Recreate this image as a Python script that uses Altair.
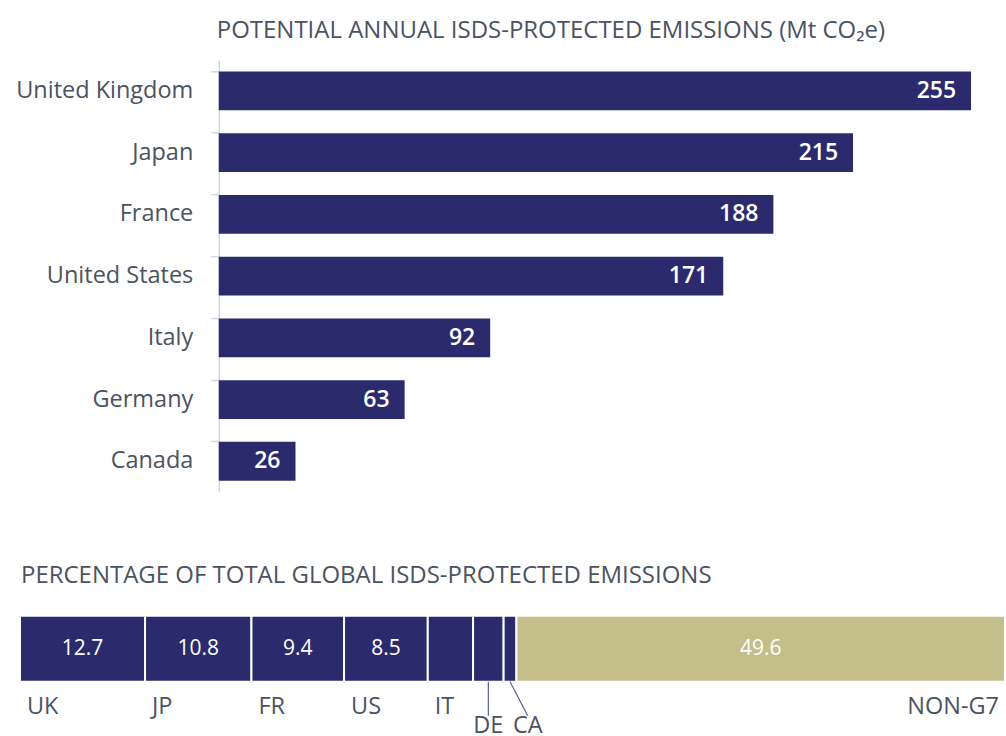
import altair as alt
import pandas as pd

# ---- data ----
countries = ["United Kingdom", "Japan", "France", "United States", "Italy", "Germany", "Canada"]
emissions = [255, 215, 188, 171, 92, 63, 26]

share_codes = ["UK", "JP", "FR", "US", "IT", "DE", "CA", "NON-G7"]
share_values = [12.7, 10.8, 9.4, 8.5, 4.6, 3.1, 1.3, 49.6]
share_labels = ["12.7", "10.8", "9.4", "8.5", "", "", "", "49.6"]
share_groups = ["G7", "G7", "G7", "G7", "G7", "G7", "G7", "NON-G7"]
# lower row of labels (DE, CA) with leader lines; offset of leader end in %-units
leader_codes = ["DE", "CA"]
leader_shift = [0.0, 1.8]

NAVY = "#2b2a6d"
KHAKI = "#c3be8a"
TEXT = "#4b5362"
FONT = "Open Sans"

# layout (pixels)
TOP_W, TOP_H = 753, 432
BOT_LEFT = -199          # bottom bar begins left of the shared origin
BOT_W, BH = 787, 66

# ---- top chart ----
top_df = pd.DataFrame({"country": countries, "value": emissions})

ybar = alt.Y("country:N", sort=countries,
             scale=alt.Scale(paddingInner=0.37, paddingOuter=0.18),
             axis=alt.Axis(title=None, domainColor="#d3d7dd", tickColor="#d3d7dd",
                           tickSize=8, labelPadding=18, labelFontSize=23.5,
                           labelColor=TEXT, labelFont=FONT, domainWidth=1.5,
                           tickWidth=1.5, bandPosition=0, labelLimit=400))
xbar = alt.X("value:Q", scale=alt.Scale(domain=[0, 255], nice=False), axis=None)

bars = alt.Chart(top_df).mark_bar(color=NAVY).encode(x=xbar, y=ybar)
bar_text = alt.Chart(top_df).mark_text(
    align="right", dx=-15, color="white", fontSize=23, fontWeight=600, font=FONT
).encode(x=xbar, y=alt.Y("country:N", sort=countries), text="value:Q")

top = alt.layer(bars, bar_text).properties(
    width=TOP_W, height=TOP_H,
    title=alt.TitleParams("POTENTIAL ANNUAL ISDS-PROTECTED EMISSIONS (Mt CO₂e)",
                          anchor="start", frame="group", fontSize=24, fontWeight="normal",
                          color=TEXT, font=FONT, offset=17, dx=-2)
)

# ---- bottom chart ----
starts, ends = [], []
acc = 0.0
for v in share_values:
    starts.append(acc)
    acc += v
    ends.append(acc)
bot_df = pd.DataFrame({
    "code": share_codes, "value": share_values, "label": share_labels,
    "group": share_groups, "start": starts, "end": ends,
})
bot_df["mid"] = (bot_df["start"] + bot_df["end"]) / 2

lead_df = bot_df[bot_df["code"].isin(leader_codes)].copy()
lead_df["tip"] = lead_df["mid"] + lead_df["code"].map(dict(zip(leader_codes, leader_shift)))
upper_df = bot_df[~bot_df["code"].isin(leader_codes + ["NON-G7"])]
right_df = bot_df[bot_df["code"] == "NON-G7"]

xs = alt.Scale(domain=[0, 100], nice=False, range=[BOT_LEFT, BOT_W])

segs = alt.Chart(bot_df).mark_bar(stroke="white", strokeWidth=2).encode(
    x=alt.X("start:Q", scale=xs, axis=None), x2="end:Q",
    y=alt.value(0), y2=alt.value(BH),
    color=alt.Color("group:N", scale=alt.Scale(domain=["G7", "NON-G7"], range=[NAVY, KHAKI]),
                    legend=None),
)
seg_text = alt.Chart(bot_df).mark_text(color="white", fontSize=21, font=FONT).encode(
    x=alt.X("mid:Q", scale=xs), y=alt.value(BH / 2), text="label:N")

up_lab = alt.Chart(upper_df).mark_text(align="left", dx=7, color=TEXT, fontSize=23.5,
                                       font=FONT, baseline="middle").encode(
    x=alt.X("start:Q", scale=xs), y=alt.value(BH + 25), text="code:N")
right_lab = alt.Chart(right_df).mark_text(align="right", dx=-6, color=TEXT, fontSize=23.5,
                                          font=FONT, baseline="middle").encode(
    x=alt.X("end:Q", scale=xs), y=alt.value(BH + 25), text="code:N")
leader = alt.Chart(lead_df).mark_rule(color="#5d6190", strokeWidth=1.2).encode(
    x=alt.X("mid:Q", scale=xs), x2="tip:Q", y=alt.value(BH), y2=alt.value(BH + 34))
low_lab = alt.Chart(lead_df).mark_text(align="center", color=TEXT, fontSize=23.5,
                                       font=FONT, baseline="top").encode(
    x=alt.X("tip:Q", scale=xs), y=alt.value(BH + 32), text="code:N")

bottom = alt.layer(segs, seg_text, up_lab, right_lab, leader, low_lab).properties(
    width=BOT_W, height=BH,
    title=alt.TitleParams("PERCENTAGE OF TOTAL GLOBAL ISDS-PROTECTED EMISSIONS",
                          anchor="start", fontSize=24, fontWeight="normal",
                          color=TEXT, font=FONT, offset=27, dx=2)
)

chart = alt.vconcat(top, bottom, spacing=72).properties(
    padding={"left": 15, "top": 19, "right": 0, "bottom": 0}
).configure_view(stroke=None)

chart.save("out.html", embed_options={"renderer": "svg", "actions": False})
